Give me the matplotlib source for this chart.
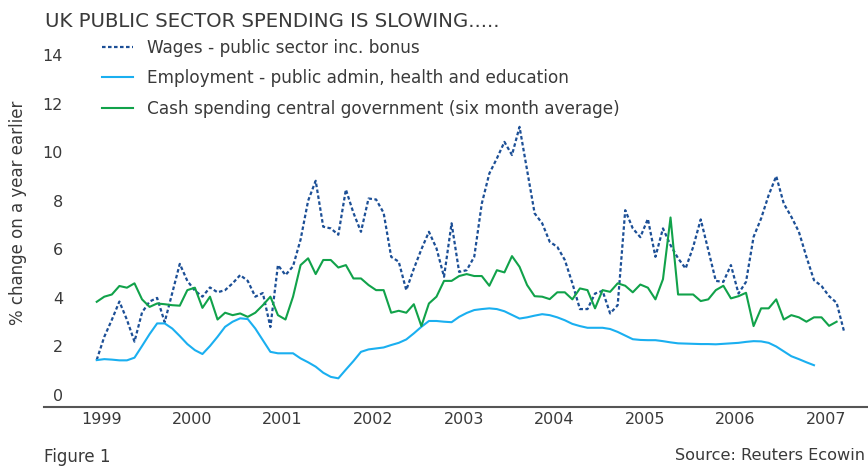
import numpy as np
import matplotlib.pyplot as plt


# monthly series, Jan 1999 onwards (% change on a year earlier)
wages = [1.45, 2.4, 3.1, 3.85, 3.1, 2.2, 3.4, 3.85, 4.0, 3.0, 4.2, 5.4,
         4.7, 4.3, 4.05, 4.43, 4.23, 4.32, 4.6, 4.94, 4.7, 4.05, 4.2, 2.8,
         5.35, 4.94, 5.3, 6.4, 8.0, 8.82, 6.93, 6.86, 6.6, 8.46, 7.5, 6.72,
         8.09, 8.05, 7.5, 5.69, 5.49, 4.32, 5.2, 6.0, 6.72, 6.04, 4.87, 7.07,
         5.07, 5.14, 5.69, 7.88, 9.12, 9.74, 10.42, 9.88, 11.04, 9.26, 7.48, 7.07,
         6.31, 6.1, 5.56, 4.6, 3.54, 3.54, 4.18, 4.29, 3.36, 3.7, 7.61, 6.86,
         6.5, 7.25, 5.69, 6.86, 6.17, 5.63, 5.21, 6.1, 7.23, 5.97, 4.7, 4.66,
         5.35, 4.18, 4.66, 6.51, 7.27, 8.23, 9.01, 7.88, 7.34, 6.72, 5.69, 4.73,
         4.49, 4.07, 3.8, 2.6]

employment = [1.44, 1.48, 1.46, 1.43, 1.43, 1.54, 2.02, 2.51, 2.95, 2.95, 2.74, 2.43,
              2.1, 1.85, 1.69, 2.02, 2.4, 2.81, 3.02, 3.16, 3.13, 2.74, 2.26, 1.78,
              1.72, 1.72, 1.72, 1.51, 1.35, 1.17, 0.92, 0.75, 0.69, 1.05, 1.4, 1.78,
              1.88, 1.92, 1.96, 2.06, 2.15, 2.29, 2.54, 2.81, 3.05, 3.05, 3.02, 3.0,
              3.22, 3.38, 3.5, 3.54, 3.57, 3.54, 3.45, 3.3, 3.15, 3.2, 3.27, 3.33,
              3.29, 3.2, 3.08, 2.93, 2.84, 2.77, 2.77, 2.77, 2.72, 2.6, 2.45, 2.3,
              2.27, 2.26, 2.26, 2.22, 2.17, 2.13, 2.12, 2.11, 2.1, 2.1, 2.09, 2.11,
              2.13, 2.15, 2.19, 2.22, 2.21, 2.15, 2.0, 1.8, 1.6, 1.48, 1.35, 1.23]

cash = [3.84, 4.05, 4.14, 4.49, 4.42, 4.6, 3.94, 3.63, 3.77, 3.74, 3.7, 3.68,
        4.32, 4.42, 3.59, 4.05, 3.11, 3.39, 3.29, 3.36, 3.22, 3.39, 3.7, 4.05,
        3.29, 3.11, 4.05, 5.35, 5.63, 4.98, 5.56, 5.56, 5.25, 5.35, 4.8, 4.8,
        4.53, 4.32, 4.32, 3.39, 3.47, 3.39, 3.74, 2.84, 3.77, 4.05, 4.7, 4.7,
        4.9, 4.98, 4.9, 4.9, 4.5, 5.14, 5.05, 5.72, 5.28, 4.53, 4.07, 4.05,
        3.95, 4.23, 4.23, 3.94, 4.39, 4.32, 3.57, 4.32, 4.25, 4.6, 4.5, 4.23,
        4.55, 4.42, 3.94, 4.77, 7.31, 4.14, 4.14, 4.14, 3.87, 3.94, 4.32, 4.5,
        3.98, 4.07, 4.21, 2.84, 3.57, 3.57, 3.94, 3.11, 3.29, 3.2, 3.02, 3.2,
        3.2, 2.85, 3.02]

years = list(range(1999, 2008))
labels = ['Wages - public sector inc. bonus',
          'Employment - public admin, health and education',
          'Cash spending central government (six month average)']


def months(series):
    return 1999 + np.arange(len(series)) / 12


def main():
    plt.rcParams['font.family'] = ['DejaVu Sans']
    txt = '#3a3a3a'

    fig = plt.figure(figsize=(8.68, 4.67), dpi=100)
    ax = fig.add_axes([0.0507, 0.129, 0.9493, 0.807])

    l1, = ax.plot(months(wages), wages, color='#1c4f96', lw=1.6,
                  linestyle=(0, (1.6, 1.1)))
    l2, = ax.plot(months(employment), employment, color='#1aaff0', lw=1.5)
    l3, = ax.plot(months(cash), cash, color='#11a24a', lw=1.5)

    ax.set_xlim(1998.418, 2007.513)
    ax.set_ylim(-0.48, 15.03)
    ax.set_yticks(range(0, 15, 2))
    ax.set_xticks([y + 0.05 for y in years])
    ax.set_xticklabels([str(y) for y in years])
    ax.tick_params(length=0, labelsize=11.5, colors=txt, pad=4)
    ax.tick_params(axis='y', pad=-13.7)
    for lab in ax.get_yticklabels():
        lab.set_horizontalalignment('right')

    for s in ['top', 'right', 'left']:
        ax.spines[s].set_visible(False)
    ax.spines['bottom'].set_color('#555555')
    ax.spines['bottom'].set_linewidth(1.5)
    ax.patch.set_alpha(0)

    fig.legend([l1, l2, l3], labels, loc='upper left',
               bbox_to_anchor=(0.117, 0.917), frameon=False, fontsize=12.2,
               handlelength=1.85, handletextpad=0.85, labelspacing=0.74,
               labelcolor=txt, borderaxespad=0, borderpad=0)

    fig.text(0.052, 0.955, 'UK PUBLIC SECTOR SPENDING IS SLOWING.....',
             fontsize=14.2, color=txt, va='center', ha='left')
    fig.text(0.021, 0.545, '% change on a year earlier', rotation=90,
             fontsize=12, color=txt, va='center', ha='center')
    fig.text(0.051, 0.021, 'Figure 1', fontsize=12, color=txt, va='center')
    fig.text(0.997, 0.025, 'Source: Reuters Ecowin', fontsize=11.6, color=txt,
             va='center', ha='right')

    fig.savefig('out.png', dpi=100)


if __name__ == "__main__":
    main()
